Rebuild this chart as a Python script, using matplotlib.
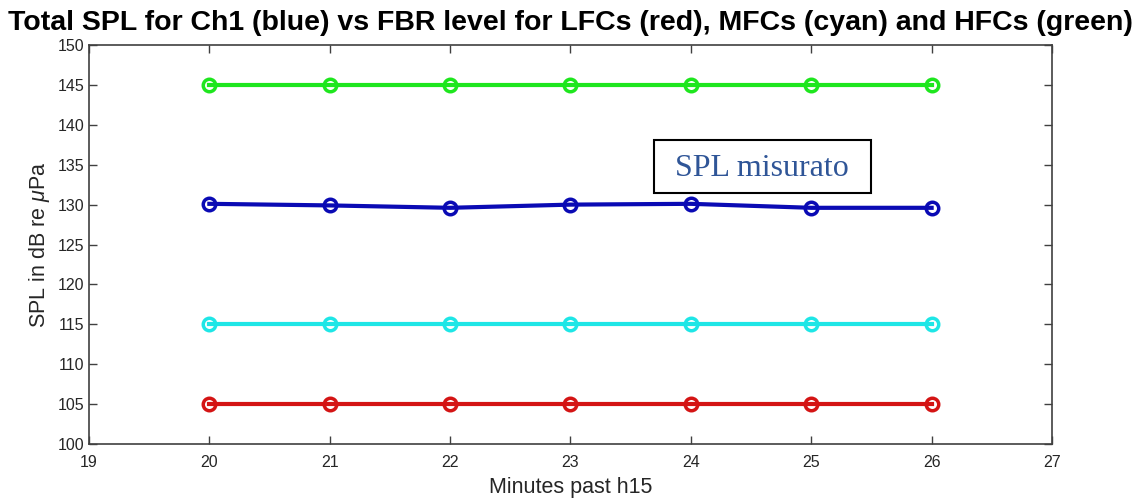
import matplotlib.pyplot as plt
from matplotlib.patches import Rectangle

plt.rcParams['font.family'] = ['Liberation Sans', 'DejaVu Sans']
plt.rcParams['mathtext.fontset'] = 'custom'
plt.rcParams['mathtext.it'] = 'Liberation Sans:italic'
plt.rcParams['mathtext.rm'] = 'Liberation Sans'

minutes = [20, 21, 22, 23, 24, 25, 26]
spl_ch1 = [130.1, 129.9, 129.6, 130.0, 130.1, 129.6, 129.6]
fbr_lfc = [105, 105, 105, 105, 105, 105, 105]
fbr_mfc = [115, 115, 115, 115, 115, 115, 115]
fbr_hfc = [145, 145, 145, 145, 145, 145, 145]

fig = plt.figure(figsize=(11.42, 4.98), dpi=100)
ax = fig.add_axes([0.0779, 0.1084, 0.8433, 0.8012])

style = dict(marker='o', fillstyle='none', markersize=9, markeredgewidth=2.5, linewidth=3)
ax.plot(minutes, fbr_hfc, color='#1ee61e', **style)
ax.plot(minutes, spl_ch1, color='#0a0ab4', **style)
ax.plot(minutes, fbr_mfc, color='#1ee6e6', **style)
ax.plot(minutes, fbr_lfc, color='#d41414', **style)

ax.set_xlim(19, 27)
ax.set_ylim(100, 150)
ax.set_xticks(range(19, 28))
ax.set_yticks(range(100, 151, 5))
ax.tick_params(direction='in', top=True, right=True, length=6, width=1,
               colors='#404040', labelcolor='#262626', labelsize=11.5)
ax.tick_params(axis='x', pad=8)
for s in ax.spines.values():
    s.set_color('#404040')
    s.set_linewidth(1.2)

ax.set_xlabel('Minutes past h15', fontsize=15.5, color='#262626', labelpad=5)
ax.set_ylabel(r'SPL in dB re $\mu$Pa', fontsize=15.5, color='#262626', labelpad=4)
ax.set_title('Total SPL for Ch1 (blue) vs FBR level for LFCs (red), MFCs (cyan) and HFCs (green)',
             fontsize=20.5, fontweight='bold', pad=11)

# annotation box
box = Rectangle((654 / 1142, 1 - 193 / 498), 217 / 1142, 53 / 498, transform=fig.transFigure,
                facecolor='white', edgecolor='black', linewidth=1.5, zorder=5)
fig.patches.append(box)
fig.text(762 / 1142, 1 - 168 / 498, 'SPL misurato', fontsize=23, color='#2f5597',
         family='Liberation Serif', ha='center', va='center', zorder=6)

fig.savefig('out.png', dpi=100, facecolor='white')
